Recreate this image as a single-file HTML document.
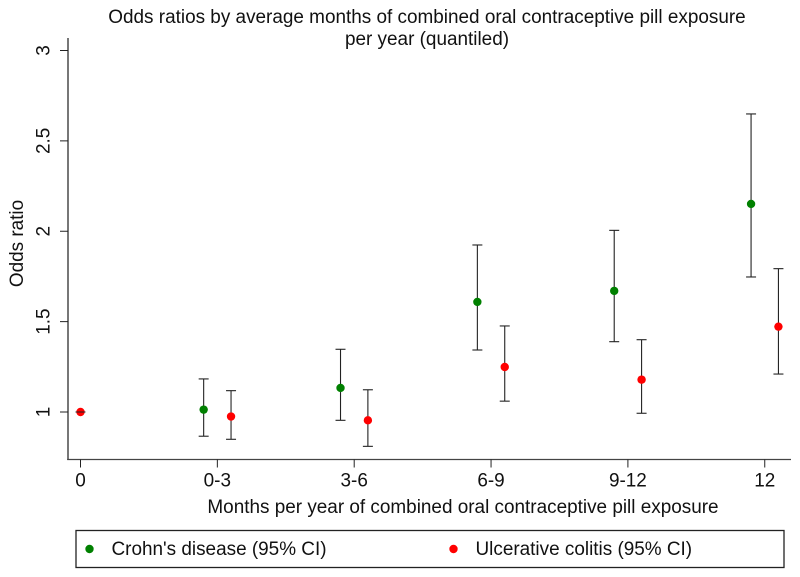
<!DOCTYPE html>
<html><head><meta charset="utf-8"><title>Odds ratios chart</title>
<style>html,body{margin:0;padding:0;background:#fff}svg{display:block}text{font-family:"Liberation Sans",Arial,sans-serif;fill:#111}</style></head>
<body>
<svg id="chart" xmlns="http://www.w3.org/2000/svg" width="800" height="577" viewBox="0 0 800 577">
<rect width="800" height="577" fill="#fff"/>
<text x="427" y="23" font-size="18.93" text-anchor="middle">Odds ratios by average months of combined oral contraceptive pill exposure</text>
<text x="427" y="45" font-size="18.93" text-anchor="middle">per year (quantiled)</text>
<text transform="translate(23,243.5) rotate(-90)" font-size="18.93" text-anchor="middle">Odds ratio</text>
<text x="463" y="513" font-size="18.93" text-anchor="middle">Months per year of combined oral contraceptive pill exposure</text>
<line x1="68" y1="38" x2="68" y2="460" stroke="#555" stroke-width="1.6"/>
<line x1="67.2" y1="459.5" x2="791" y2="459.5" stroke="#444" stroke-width="1.3"/>
<g id="axes"></g>
<g id="marks"></g>
<rect x="76" y="530.5" width="708" height="37" fill="none" stroke="#222" stroke-width="1.3"/>
<circle cx="89.5" cy="549" r="4.2" fill="#008000"/>
<text x="111.5" y="555" font-size="18.93">Crohn's disease (95% CI)</text>
<circle cx="453.5" cy="549" r="4.2" fill="#ff0000"/>
<text x="475.5" y="555" font-size="18.93">Ulcerative colitis (95% CI)</text>
</svg>
<script>
const categories = ["0", "0-3", "3-6", "6-9", "9-12", "12"];
const yTickLabels = ["1", "1.5", "2", "2.5", "3"];
const yTickValues = [1, 1.5, 2, 2.5, 3];
const crohnOR = [null, 1.013, 1.133, 1.609, 1.670, 2.151];
const crohnLow = [null, 0.866, 0.954, 1.343, 1.389, 1.747];
const crohnHigh = [null, 1.183, 1.347, 1.924, 2.005, 2.649];
const ucOR = [1, 0.975, 0.954, 1.249, 1.179, 1.472];
const ucLow = [null, 0.849, 0.810, 1.060, 0.993, 1.210];
const ucHigh = [null, 1.118, 1.123, 1.476, 1.400, 1.793];
const seriesOffset = 0.1;

const NS = 'http://www.w3.org/2000/svg';
const xScale = i => 80.5 + i * 136.85;
const yScale = v => 412 - (v - 1) * 180.75;
const axes = document.getElementById('axes');
const marks = document.getElementById('marks');
function mk(parent, tag, attrs) {
  const el = document.createElementNS(NS, tag);
  for (const k in attrs) el.setAttribute(k, attrs[k]);
  parent.appendChild(el);
  return el;
}
yTickValues.forEach((v, i) => {
  const y = yScale(v);
  const tick = mk(axes, 'line', {x1: 60, x2: 68, y1: y, y2: y, stroke: '#222', 'stroke-width': 1});
  
  
  const label = mk(axes, 'text', {transform: `translate(49.5,${y}) rotate(-90)`, 'font-size': 18.93, 'text-anchor': 'middle'});
  
  
  label.textContent = yTickLabels[i];
});
categories.forEach((c, i) => {
  const x = xScale(i);
  const tick = mk(axes, 'line', {x1: x, x2: x, y1: 459.5, y2: 467.5, stroke: '#222', 'stroke-width': 1});
  
  
  const label = mk(axes, 'text', {x: x, y: 486.5, 'font-size': 18.93, 'text-anchor': 'middle'});
  
  
  label.textContent = c;
});
function drawSeries(or, low, high, color, sign, name) {
  or.forEach((v, i) => {
    if (v === null) return;
    const x = xScale(i + (i === 0 ? 0 : sign * seriesOffset));
    if (low[i] !== null) {
      const stem = mk(marks, 'line', {x1: x, x2: x, y1: yScale(low[i]), y2: yScale(high[i]), stroke: '#222', 'stroke-width': 1.1});
      
      
      [low[i], high[i]].forEach(b => {
        const cap = mk(marks, 'line', {x1: x - 5, x2: x + 5, y1: yScale(b), y2: yScale(b), stroke: '#222', 'stroke-width': 1.1});
        
        
      });
    }
    const pt = mk(marks, 'circle', {cx: x, cy: yScale(v), r: 4.2, fill: color});
    
    
  });
}
drawSeries(crohnOR, crohnLow, crohnHigh, '#008000', -1, 'crohns');
drawSeries(ucOR, ucLow, ucHigh, '#ff0000', 1, 'ulcerative-colitis');
const refLine = mk(marks, 'line', {x1: xScale(0) - 5, x2: xScale(0) + 5, y1: yScale(1), y2: yScale(1), stroke: '#222', 'stroke-width': 1});


</script>
</body></html>
